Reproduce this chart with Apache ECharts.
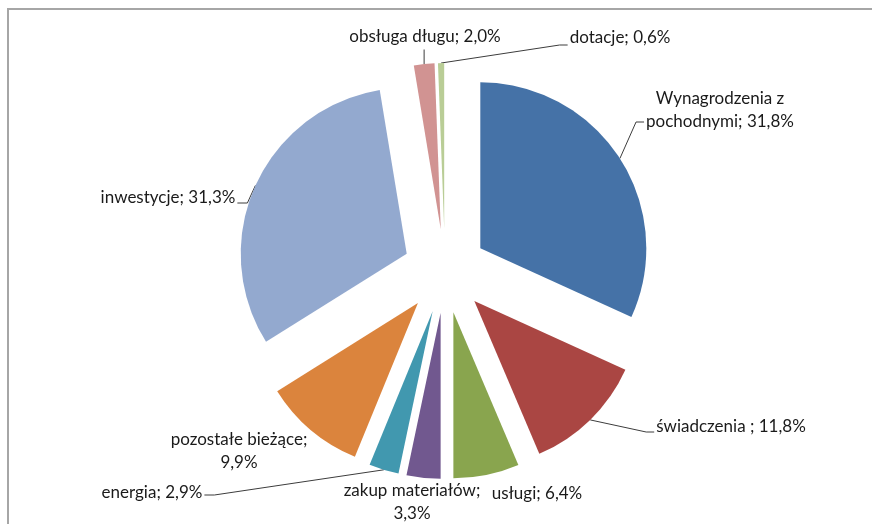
<!DOCTYPE html>
<html>
<head>
<meta charset="utf-8">
<script src="https://cdn.jsdelivr.net/npm/echarts@6/dist/echarts.min.js"></script>
<style>
  html, body { margin: 0; padding: 0; background: #fff; }
  #chart { width: 872px; height: 524px; }
</style>
</head>
<body>
<div id="chart"></div>
<script>
// struktura wydatków
var categories = ['Wynagrodzenia z\npochodnymi', 'świadczenia ', 'usługi', 'zakup materiałów', 'energia',
  'pozostałe bieżące', 'inwestycje', 'obsługa długu', 'dotacje'];
var values = [31.8, 11.8, 6.4, 3.3, 2.9, 9.9, 31.3, 2.0, 0.6];
var colors = ['#4572A7', '#AA4643', '#89A54E', '#71588F', '#4198AF', '#DB843D', '#93A9CF', '#D19392', '#B9CD96'];

// separator between name and value ('\n' = value on second line)
var labelSep = [' ', ' ', ' ', '\n', ' ', '\n', ' ', ' ', ' '];
// label centres and where the leader line meets the label
var labelPos = [[720, 110], [731, 427], [537, 494], [412, 502], [152, 493], [239, 451], [168, 198], [425, 37], [620, 38]];
var lineSide = ['left', 'left', null, null, 'right', null, 'right', 'bottom', 'left'];
var lineDy = [12, 5, 0, 0, 2, 0, 5, 0, 7];

var cx = 445, cy = 271, R = 166, OFF = 42;

var total = values.reduce(function (s, v) { return s + v; }, 0);
function midAngle(i) {
  var before = 0;
  for (var k = 0; k < i; k++) before += values[k];
  return (before + values[i] / 2) / total * 2 * Math.PI;
}
// point on the outer arc of an exploded slice, at its middle angle
function anchor(i) {
  var a = midAngle(i);
  return [cx + (OFF + R) * Math.sin(a), cy - (OFF + R) * Math.cos(a)];
}

const myChart = echarts.init(document.getElementById('chart'));
myChart.setOption({
  animation: false,
  graphic: [{
    type: 'rect',
    shape: { x: 8, y: 9, width: 900, height: 600 },
    style: { fill: null, stroke: '#a6a6a6', lineWidth: 2 },
    silent: true
  }],
  series: [
    // exploded slices (each one selected -> pushed out)
    {
      type: 'pie',
      center: [cx, cy],
      radius: R,
      startAngle: 90,
      clockwise: true,
      selectedMode: 'multiple',
      selectedOffset: OFF,
      emphasis: { scale: false },
      itemStyle: { borderWidth: 0 },
      label: { show: false },
      labelLine: { show: false },
      data: categories.map(function (name, i) {
        return { name: name, value: values[i], selected: true, itemStyle: { color: colors[i] } };
      })
    },
    // invisible copy that only carries the labels
    {
      type: 'pie',
      center: [cx, cy],
      radius: R,
      startAngle: 90,
      clockwise: true,
      silent: true,
      avoidLabelOverlap: false,
      itemStyle: { color: 'rgba(0,0,0,0)', borderWidth: 0 },
      label: {
        show: true,
        position: 'outside',
        fontFamily: 'Lato',
        fontSize: 17,
        lineHeight: 23,
        color: '#1a1a1a',
        formatter: function (p) {
          return p.name + ';' + labelSep[p.dataIndex] + p.value.toFixed(1).replace('.', ',') + '%';
        }
      },
      labelLine: {
        show: true,
        lineStyle: { color: '#3c3c3c', width: 1 }
      },
      labelLayout: function (p) {
        var i = p.dataIndex;
        var pos = labelPos[i];
        var res = { x: pos[0], y: pos[1], align: 'center', verticalAlign: 'middle' };
        var side = lineSide[i];
        if (side) {
          var a = anchor(i);
          var w = p.labelRect.width, h = p.labelRect.height;
          var y = pos[1] + lineDy[i];
          if (side === 'left') {
            var ex = pos[0] - w / 2 - 2;
            res.labelLinePoints = [a, [ex - 8, y], [ex, y]];
          } else if (side === 'right') {
            var rx = pos[0] + w / 2 + 2;
            res.labelLinePoints = [a, [rx + 10, y], [rx, y]];
          } else {
            var by = pos[1] + h / 2 + 1;
            res.labelLinePoints = [a, [a[0], by], [a[0], by]];
          }
        }
        return res;
      },
      data: categories.map(function (name, i) {
        return { name: name, value: values[i], labelLine: { show: lineSide[i] !== null } };
      })
    }
  ]
});
window.onresize = myChart.resize;
</script>
</body>
</html>
